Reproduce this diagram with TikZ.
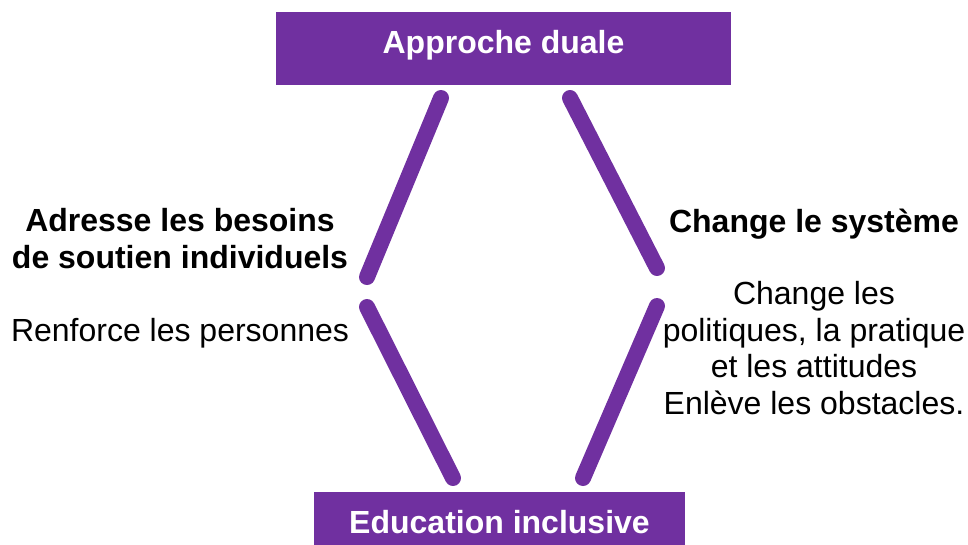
\documentclass[tikz,border=0pt]{standalone}
\usepackage{fontspec}
\setmainfont{Liberation Sans}
\definecolor{dualpurple}{HTML}{7030A0}

\begin{document}
\begin{tikzpicture}[x=0.75pt,y=-0.75pt,
    big font/.style={font=\fontsize{24pt}{27.4pt}\selectfont},
    bold font/.style={font=\fontsize{24pt}{27.4pt}\selectfont\bfseries},
    box/.style={bold font,fill=dualpurple,text=white,inner sep=0pt,
      minimum height=54.75pt,text height=17pt,text depth=10.25pt},
    side text/.style={align=center,anchor=base},
    branch/.style={draw=dualpurple,line width=12pt,line cap=round}]

    \useasboundingbox (0,0) rectangle (968,544);

    \node[box,minimum width=341.25pt] (dual) at (503.5,48.5) {Approche duale};
    \node[box,minimum width=278.25pt] (incl) at (499.5,528.5) {Education inclusive};

    % base anchor sits on the last line
    \node[bold font,side text] (indiv) at (180,268.5) {Adresse les besoins\\de soutien individuels};
    \node[big font,side text] (renf) at (180,341.5) {Renforce les personnes};
    \node[bold font,side text] (syst) at (814,232) {Change le système};
    \node[big font,side text] (pol) at (814,414.5) {Change les\\politiques, la pratique\\et les attitudes\\Enlève les obstacles.};

    % ends of the four branches
    \coordinate (lt) at (441,98);
    \coordinate (lm1) at (367,277);
    \coordinate (lm2) at (367,307);
    \coordinate (lb) at (453,478);
    \coordinate (rt) at (570,98);
    \coordinate (rm1) at (657,268);
    \coordinate (rm2) at (657,306);
    \coordinate (rb) at (583,478);

    \draw[branch] (lt) -- (lm1);
    \draw[branch] (lm2) -- (lb);
    \draw[branch] (rt) -- (rm1);
    \draw[branch] (rm2) -- (rb);
\end{tikzpicture}
\end{document}
